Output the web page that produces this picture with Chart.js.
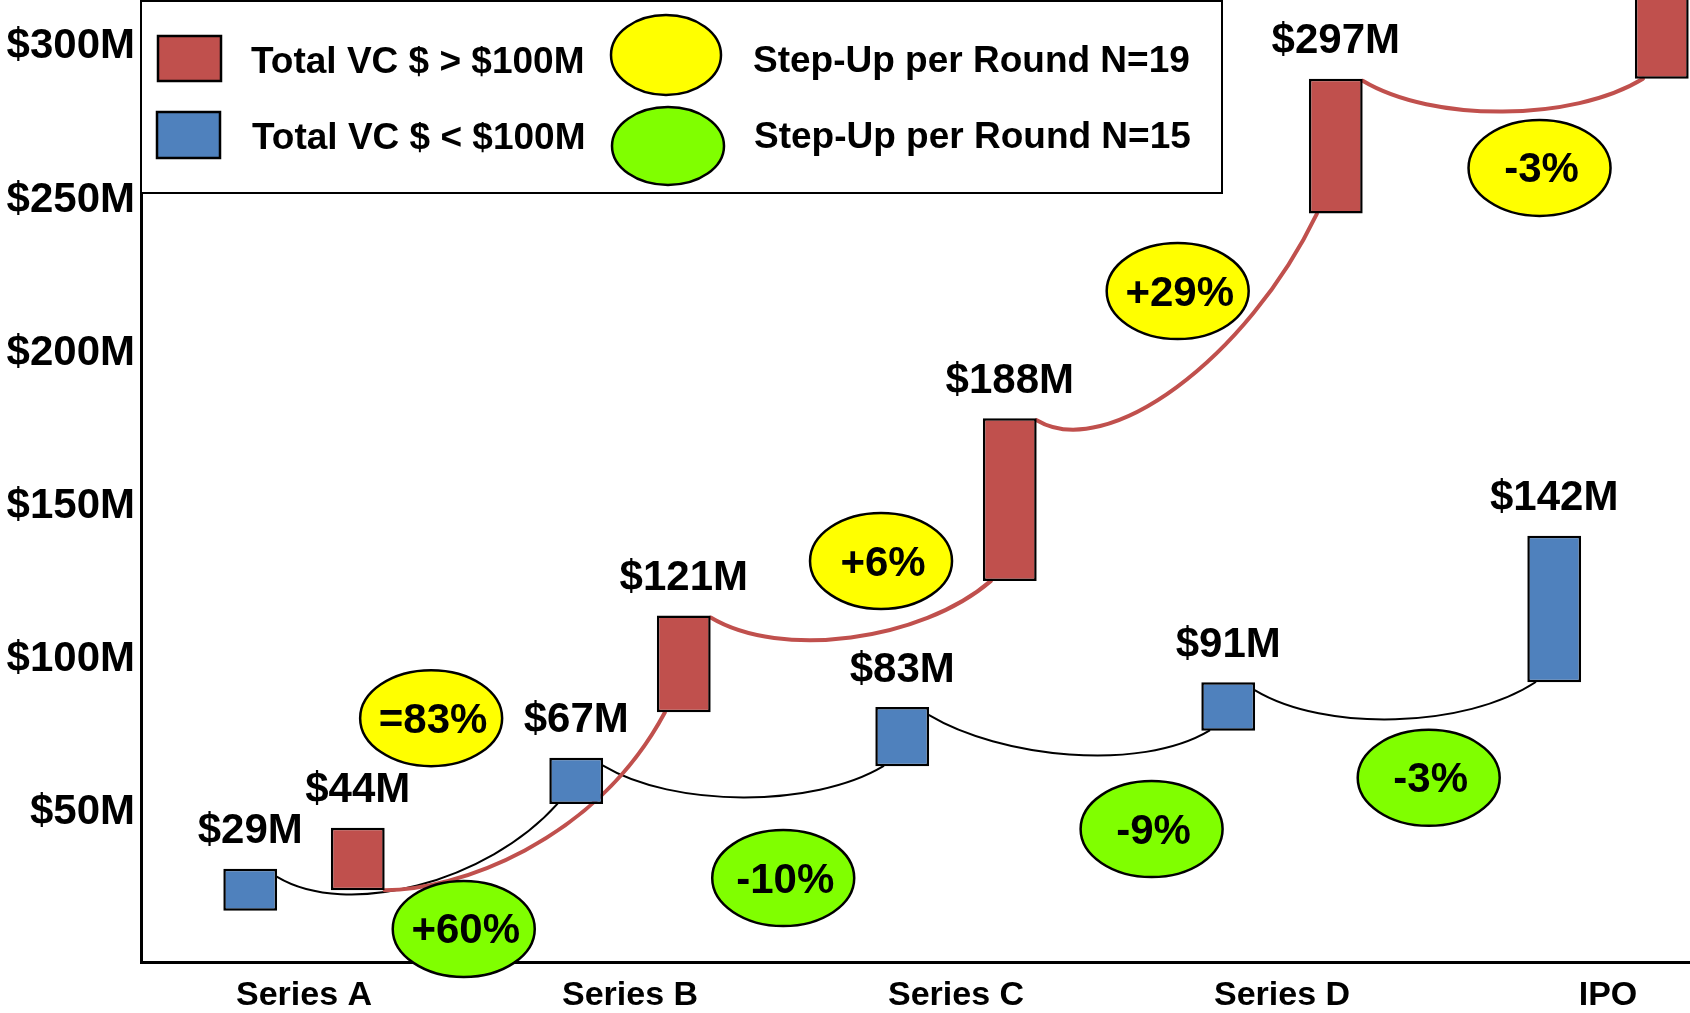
<!DOCTYPE html>
<html>
<head>
<meta charset="utf-8">
<title>VC step-up per round</title>
<script src="https://cdn.jsdelivr.net/npm/chart.js@4.4.1/dist/chart.umd.min.js"></script>
<style>
  html, body { margin: 0; padding: 0; overflow: hidden; background: #fff; }
  #chart { display: block; }
</style>
</head>
<body>
<canvas id="chart" width="1771" height="1013"></canvas>
<script>
const rounds = ['Series A', 'Series B', 'Series C', 'Series D', 'IPO'];

// floating boxes [low, high] in $M
const smallFunds = [[16.7, 30.4], [51.6, 66.7], [63.9, 83.2], [75.5, 91.3], [91.3, 139.1]];
const bigFunds = [[23.4, 43.8], [81.5, 113.1], [124.4, 177.5], [244.3, 288.3], [288.3, 330]];

const smallLabels = ['$29M', '$67M', '$83M', '$91M', '$142M'];
const bigLabels = ['$44M', '$121M', '$188M', '$297M', ''];

// step-up between consecutive rounds
const bigStepUp = ['=83%', '+6%', '+29%', '-3%'];
const smallStepUp = ['+60%', '-10%', '-9%', '-3%'];

const yTicks = [50, 100, 150, 200, 250, 300];

// where the step-up ovals sit: [round index, $M]
const bigBadgeAt = [[0.39, 79.6], [1.77, 130.9], [2.68, 219], [3.79, 259.2]];
const smallBadgeAt = [[0.49, 10.8], [1.47, 27.4], [2.6, 43.4], [3.45, 60.1]];

const RED = '#C0504D';
const BLUE = '#4F81BD';
const YELLOW = '#FFFF00';
const GREEN = '#80FF00';
const FONT = '"Liberation Sans", Arial, sans-serif';

// curved connectors between the boxes of one dataset
function drawConnectors(ctx, meta, firstFromBase, drop) {
  const bars = meta.data;
  ctx.beginPath();
  for (let i = 0; i < bars.length - 1; i++) {
    const a = bars[i].getProps(['x', 'y', 'base', 'width'], true);
    const b = bars[i + 1].getProps(['x', 'y', 'base', 'width'], true);
    const fromBase = firstFromBase && i === 0;
    const x0 = a.x + a.width / 2;
    const y0 = fromBase ? a.base : a.y + drop;
    const x3 = b.x - b.width / 2 + b.width * 0.15;
    const y3 = b.base;
    const dx = x3 - x0;
    const rise = Math.max(y0 - y3, 0);
    ctx.moveTo(x0, y0);
    ctx.bezierCurveTo(x0 + dx * 0.25, y0 + (fromBase ? 0 : 42),
                      x3 - dx * 0.25, y3 + rise * 0.5 + 42, x3, y3);
  }
  ctx.stroke();
}

function drawOval(ctx, cx, cy, rx, ry, fill) {
  ctx.beginPath();
  ctx.ellipse(cx, cy, rx, ry, 0, 0, Math.PI * 2);
  ctx.fillStyle = fill;
  ctx.fill();
  ctx.lineWidth = 2.5;
  ctx.strokeStyle = '#000';
  ctx.stroke();
}

const decorations = {
  id: 'decorations',
  beforeDatasetsDraw(chart) {
    const ctx = chart.ctx;
    ctx.save();
    ctx.lineCap = 'round';
    ctx.strokeStyle = '#000';
    ctx.lineWidth = 2;
    drawConnectors(ctx, chart.getDatasetMeta(0), false, 8);
    ctx.strokeStyle = RED;
    ctx.lineWidth = 4;
    drawConnectors(ctx, chart.getDatasetMeta(1), true, 2);
    ctx.restore();
  },
  afterDatasetsDraw(chart) {
    const ctx = chart.ctx;
    const xs = chart.scales.x, ys = chart.scales.y;
    ctx.save();
    // value labels above boxes
    ctx.font = 'bold 42px ' + FONT;
    ctx.fillStyle = '#000';
    ctx.textAlign = 'center';
    ctx.textBaseline = 'middle';
    [[0, smallLabels], [1, bigLabels]].forEach(([di, labels]) => {
      chart.getDatasetMeta(di).data.forEach((bar, i) => {
        if (labels[i]) ctx.fillText(labels[i], bar.x, bar.y - 37);
      });
    });
    // step-up ovals
    const ovals = [[bigStepUp, bigBadgeAt, YELLOW], [smallStepUp, smallBadgeAt, GREEN]];
    ovals.forEach(([texts, at, fill]) => {
      texts.forEach((t, i) => {
        const cx = xs.getPixelForValue(at[i][0]);
        const cy = ys.getPixelForValue(at[i][1]);
        drawOval(ctx, cx, cy, 71, 48, fill);
        ctx.fillStyle = '#000';
        ctx.fillText(t, cx + 2, cy + 3);
      });
    });
    ctx.restore();
  },
  afterDraw(chart) {
    const ctx = chart.ctx;
    const L = chart.chartArea.left;
    ctx.save();
    ctx.fillStyle = '#fff';
    ctx.fillRect(L + 1, 1, 1080, 192);
    ctx.lineWidth = 2;
    ctx.strokeStyle = '#000';
    ctx.strokeRect(L, 1, 1081, 192);

    ctx.lineWidth = 2.5;
    ctx.fillStyle = RED;
    ctx.fillRect(L + 17, 36, 63, 45);
    ctx.strokeRect(L + 17, 36, 63, 45);
    ctx.fillStyle = BLUE;
    ctx.fillRect(L + 16, 112, 63, 46);
    ctx.strokeRect(L + 16, 112, 63, 46);
    drawOval(ctx, L + 525, 55, 55, 40, YELLOW);
    drawOval(ctx, L + 527, 146, 56, 39, GREEN);

    ctx.fillStyle = '#000';
    ctx.font = 'bold 37px ' + FONT;
    ctx.textAlign = 'left';
    ctx.textBaseline = 'middle';
    ctx.fillText('Total VC $ > $100M', L + 110, 63);
    ctx.fillText('Total VC $ < $100M', L + 111, 139);
    ctx.fillText('Step-Up per Round N=19', L + 612, 62);
    ctx.fillText('Step-Up per Round N=15', L + 613, 138);
    ctx.restore();
  }
};

new Chart(document.getElementById('chart'), {
  type: 'bar',
  data: {
    labels: rounds,
    datasets: [{
      label: 'Total VC $ < $100M',
      data: smallFunds,
      backgroundColor: BLUE,
      borderColor: '#000',
      borderWidth: 2.5,
      borderSkipped: false
    }, {
      label: 'Total VC $ > $100M',
      data: bigFunds,
      backgroundColor: RED,
      borderColor: '#000',
      borderWidth: 2.5,
      borderSkipped: false
    }]
  },
  options: {
    responsive: false,
    animation: false,
    layout: { padding: 0 },
    datasets: { bar: { categoryPercentage: 0.66, barPercentage: 0.5 } },
    scales: {
      x: {
        offset: true,
        grid: { display: false, drawTicks: false },
        border: { display: true, color: '#000', width: 3 },
        ticks: {
          color: '#000',
          padding: 13,
          maxRotation: 0,
          autoSkip: false,
          font: { family: FONT, size: 34, weight: 'bold' }
        },
        afterFit(scale) {
          scale.height = 51;
          scale.paddingLeft = 0;
          scale.paddingRight = 0;
        }
      },
      y: {
        min: 0,
        max: 314,
        grid: { display: false, drawTicks: false },
        border: { display: true, color: '#000', width: 3 },
        afterBuildTicks(scale) {
          scale.ticks = yTicks.map(v => ({ value: v }));
        },
        ticks: {
          color: '#000',
          padding: 6,
          labelOffset: 4,
          font: { family: FONT, size: 42, weight: 'bold' },
          callback: v => '$' + v + 'M'
        },
        afterFit(scale) {
          scale.width = 141;
          scale.paddingTop = 0;
          scale.paddingBottom = 0;
        }
      }
    },
    plugins: {
      legend: { display: false },
      tooltip: { enabled: false }
    }
  },
  plugins: [decorations]
});
</script>
</body>
</html>
